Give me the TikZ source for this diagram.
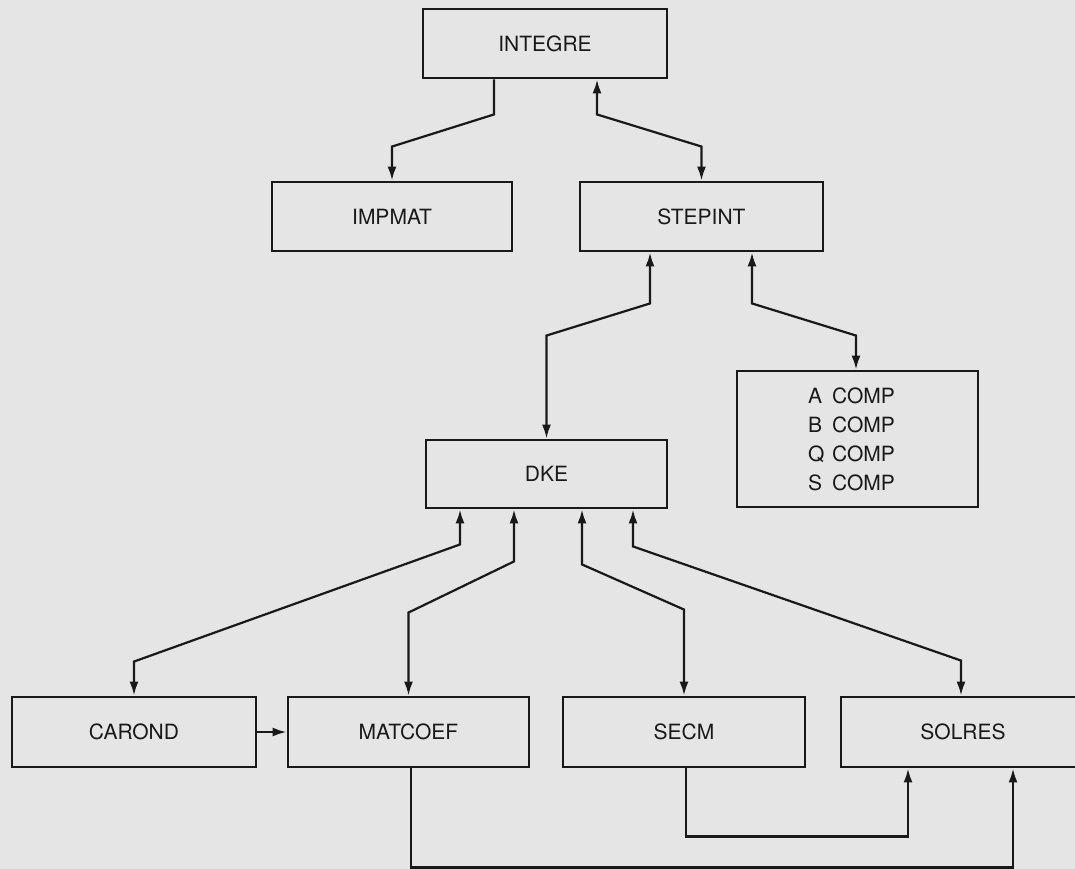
\documentclass[tikz,border=0pt]{standalone}
\usepackage{fontspec}
\setmainfont{TeX Gyre Heros}
\usetikzlibrary{arrows.meta}
\definecolor{paper}{gray}{0.9}
\definecolor{ink}{gray}{0.1}
\newcommand{\cl}[1]{\makebox[1.15em][l]{#1}COMP}
\begin{document}
\begin{tikzpicture}[x=1pt,y=-1pt,
  box/.style={draw=ink,line width=2.9pt,minimum width=243pt,minimum height=69pt,
    inner sep=0pt,font=\fontsize{21}{29}\selectfont,text=ink},
  conn/.style={draw=ink,line width=2.2pt,line join=miter},
  tip/.tip={Latex[length=14pt,width=9pt]},
  one/.style={conn,-tip},
  two/.style={conn,tip-tip}]
\fill[paper] (0,0) rectangle (1075,869);
\useasboundingbox (0,0) rectangle (1075,869);
\clip (0,0) rectangle (1075,869);

\node[box,minimum width=244pt] (integre) at (545,43.5) {INTEGRE};
\node[box,minimum width=240pt] (impmat) at (392,216.5) {IMPMAT};
\node[box] (stepint) at (701.5,216.5) {STEPINT};
\node[box,minimum width=241pt,minimum height=68pt] (dke) at (546.5,474) {DKE};
\node[box,minimum width=241pt,minimum height=136pt,align=left] (comp) at (857.5,439)
  {\cl{A}\\\cl{B}\\\cl{Q}\\\cl{S}\hspace*{12pt}};
\node[box,minimum width=244pt,minimum height=70pt] (carond) at (134,732) {CAROND};
\node[box,minimum width=241pt,minimum height=70pt] (matcoef) at (408.5,732) {MATCOEF};
\node[box,minimum width=242pt,minimum height=70pt] (secm) at (684,732) {SECM};
\node[box,minimum width=244pt,minimum height=70pt] (solres) at (963,732) {SOLRES};

% INTEGRE level
\draw[one] ([xshift=-51pt]integre.south) -- ++(0,35)
  -- ([yshift=34pt]impmat.north) -- (impmat.north);
\draw[two] ([xshift=52pt]integre.south) -- ++(0,35)
  -- ([yshift=34pt]stepint.north) -- (stepint.north);

% STEPINT level
\draw[two] ([xshift=-51.5pt]stepint.south) -- ++(0,51)
  -- ([yshift=103pt]dke.north) -- (dke.north);
\draw[two] ([xshift=50.5pt]stepint.south) -- ++(0,51)
  -- ([xshift=-1.5pt,yshift=34pt]comp.north) -- ([xshift=-1.5pt]comp.north);

% DKE level
\draw[two] ([xshift=-86.5pt]dke.south) -- ++(0,35)
  -- ([yshift=34pt]carond.north) -- (carond.north);
\draw[two] ([xshift=-32.5pt]dke.south) -- ++(0,52)
  -- ([yshift=83pt]matcoef.north) -- (matcoef.north);
\draw[two] ([xshift=35.5pt]dke.south) -- ++(0,55)
  -- ([yshift=86pt]secm.north) -- (secm.north);
\draw[two] ([xshift=86.5pt]dke.south) -- ++(0,37)
  -- ([xshift=-2pt,yshift=35pt]solres.north) -- ([xshift=-2pt]solres.north);

% bottom row
\draw[one] (carond.east) -- (matcoef.west);
\draw[one] ([xshift=2pt]secm.south) -- ++(0,68) -| ([xshift=-55pt]solres.south);
\draw[one] ([xshift=2.5pt]matcoef.south) -- ++(0,99) -| ([xshift=50pt]solres.south);
\end{tikzpicture}
\end{document}
